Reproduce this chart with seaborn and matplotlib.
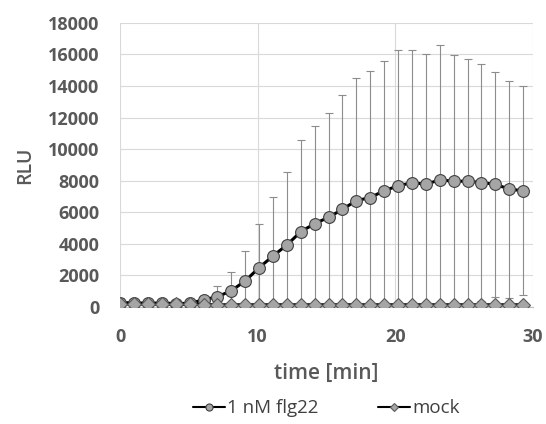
import numpy as np
import pandas as pd
import matplotlib
matplotlib.use("Agg")
import matplotlib.pyplot as plt
import seaborn as sns
from matplotlib.ticker import MultipleLocator

# time points [min]
time = [0.0, 1.01, 2.02, 3.03, 4.04, 5.05, 6.06, 7.07, 8.08, 9.09,
        10.1, 11.11, 12.12, 13.13, 14.14, 15.15, 16.16, 17.17, 18.18, 19.19,
        20.2, 21.21, 22.22, 23.23, 24.24, 25.25, 26.26, 27.27, 28.28, 29.29]

flg22 = [280, 260, 240, 250, 220, 230, 450, 650, 1030, 1650,
         2490, 3230, 3930, 4770, 5280, 5680, 6190, 6740, 6930, 7370,
         7670, 7880, 7780, 8050, 7970, 7970, 7880, 7780, 7460, 7370]
flg22_err = [270, 180, 200, 190, 200, 200, 250, 680, 1210, 1900,
             2750, 3760, 4610, 5790, 6190, 6590, 7240, 7750, 8000, 8200,
             8600, 8390, 8250, 8530, 7980, 7730, 7520, 7130, 6860, 6600]

mock = [190, 180, 180, 170, 170, 160, 150, 140, 140, 140,
        140, 140, 140, 140, 140, 140, 140, 140, 140, 140,
        140, 140, 140, 140, 140, 140, 140, 140, 140, 140]
mock_err = [40] * 30

df = pd.DataFrame({
    "time": time * 2,
    "RLU": flg22 + mock,
    "series": ["1 nM flg22"] * len(time) + ["mock"] * len(time),
})

sns.set_style("white")
plt.rcParams["font.family"] = ["Open Sans", "DejaVu Sans"]

fig = plt.figure(figsize=(5.46, 4.24), dpi=100)
ax = fig.add_axes([0.22, 0.276, 0.756, 0.67])

txt = "#595959"
grid = "#d9d9d9"

# error bars first (behind the lines)
ax.errorbar(time, flg22, yerr=flg22_err, fmt="none", ecolor="#8c8c8c",
            elinewidth=0.8, capsize=3, capthick=0.8, zorder=2)
ax.errorbar(time, mock, yerr=mock_err, fmt="none", ecolor="#8c8c8c",
            elinewidth=0.8, capsize=3, capthick=0.8, zorder=2)

sns.lineplot(data=df[df.series == "1 nM flg22"], x="time", y="RLU", ax=ax,
             color="black", lw=2.2, marker="o", markersize=8.5,
             markerfacecolor="#a5a5a5", markeredgecolor="#404040",
             markeredgewidth=0.8, zorder=4, label="1 nM flg22")
sns.lineplot(data=df[df.series == "mock"], x="time", y="RLU", ax=ax,
             color="black", lw=2.2, marker="D", markersize=7.5,
             markerfacecolor="#a5a5a5", markeredgecolor="#595959",
             markeredgewidth=0.8, zorder=5, label="mock")

ax.set_xlim(0, 30)
ax.set_ylim(0, 18000)
ax.xaxis.set_major_locator(MultipleLocator(10))
ax.xaxis.set_minor_locator(MultipleLocator(2))
ax.yaxis.set_major_locator(MultipleLocator(2000))
ax.grid(True, which="major", color=grid, lw=0.8)
ax.set_axisbelow(True)
for s in ["top", "right", "left"]:
    ax.spines[s].set_visible(False)
ax.spines["bottom"].set_color("#bfbfbf")
ax.spines["bottom"].set_linewidth(0.8)

ax.tick_params(axis="x", which="major", length=0, labelsize=13,
               labelcolor=txt, pad=15)
ax.tick_params(axis="x", which="minor", direction="out", length=4,
               color="#bfbfbf")
ax.tick_params(axis="y", length=0, labelsize=13, labelcolor=txt, pad=15)
for lab in ax.get_xticklabels() + ax.get_yticklabels():
    lab.set_fontweight("bold")

ax.set_xlabel("time [min]", fontsize=15, color=txt, fontweight="semibold",
              labelpad=12)
ax.set_ylabel("RLU", fontsize=14, color=txt, fontweight="semibold",
              labelpad=9)

leg = ax.legend(loc="center", bbox_to_anchor=(0.5, -0.357), ncol=2,
                frameon=False, fontsize=13.5, handlelength=1.7,
                columnspacing=3.2, handletextpad=0.1, markerscale=0.6)
for t in leg.get_texts():
    t.set_color("#404040")
for ln in leg.get_lines():
    ln.set_linewidth(1.5)

fig.savefig("out.png", dpi=100)
